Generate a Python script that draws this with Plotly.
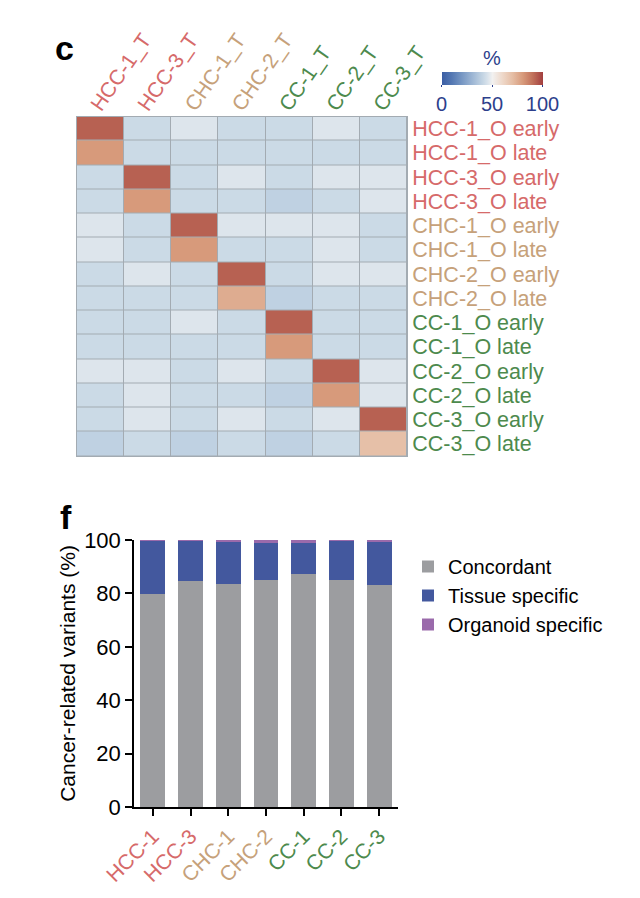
import plotly.graph_objects as go

W, H = 640, 898

# ---------------- data ----------------
tissue_cols = ["HCC-1_T", "HCC-3_T", "CHC-1_T", "CHC-2_T", "CC-1_T", "CC-2_T", "CC-3_T"]
organoid_rows = ["HCC-1_O early", "HCC-1_O late", "HCC-3_O early", "HCC-3_O late",
                 "CHC-1_O early", "CHC-1_O late", "CHC-2_O early", "CHC-2_O late",
                 "CC-1_O early", "CC-1_O late", "CC-2_O early", "CC-2_O late",
                 "CC-3_O early", "CC-3_O late"]
overlap_pct = [
    [93, 42, 46, 42, 42, 46, 42],
    [80, 42, 42, 42, 42, 42, 42],
    [42, 93, 42, 46, 42, 46, 46],
    [42, 80, 42, 42, 39, 42, 46],
    [46, 42, 93, 46, 46, 46, 42],
    [46, 42, 80, 42, 42, 46, 42],
    [42, 46, 42, 93, 42, 46, 46],
    [42, 42, 42, 75, 39, 42, 42],
    [42, 42, 46, 42, 93, 42, 42],
    [42, 42, 42, 42, 80, 42, 42],
    [46, 46, 42, 46, 42, 93, 46],
    [42, 46, 42, 42, 39, 80, 46],
    [42, 46, 42, 46, 42, 46, 93],
    [39, 42, 39, 42, 39, 42, 69],
]

samples = ["HCC-1", "HCC-3", "CHC-1", "CHC-2", "CC-1", "CC-2", "CC-3"]
concordant = [79.8, 84.6, 83.5, 85.0, 87.3, 85.2, 83.1]
tissue_specific = [20.0, 15.3, 16.1, 13.9, 11.4, 14.7, 16.4]
organoid_specific = [0.2, 0.1, 0.4, 1.1, 1.3, 0.1, 0.5]
bar_ticks = [0, 20, 40, 60, 80, 100]
cbar_ticks = [0, 50, 100]

# ---------------- styling ----------------
FONT = "Liberation Sans, Arial, sans-serif"
GROUP_COL = {"HCC": "#d66a6a", "CHC": "#c6a17a", "CC": "#4d8a4d"}


def col_of(label):
    return GROUP_COL[label.split("-")[0]]


def colored(labels):
    return ['<span style="color:%s">%s</span>' % (col_of(s), s) for s in labels]


colorscale = [
    [0.0, "#3b5ea4"], [0.1, "#5579b3"], [0.2, "#7898c4"], [0.3, "#9db6d4"],
    [0.4, "#c3d4e3"], [0.45, "#d8e2eb"], [0.5, "#f2f1f0"], [0.6, "#eed8c9"],
    [0.7, "#e5bda4"], [0.8, "#d79a7b"], [0.9, "#c0705a"], [1.0, "#a23e3f"],
]
CB_COL = "#2d3f8c"


def px(x):
    return x / W


def py(y):
    return 1 - y / H


fig = go.Figure()

fig.add_trace(go.Heatmap(
    z=overlap_pct, x=tissue_cols, y=organoid_rows,
    zmin=0, zmax=100, colorscale=colorscale,
    xgap=1, ygap=1, xaxis="x", yaxis="y", hoverongaps=False,
    colorbar=dict(
        orientation="h", x=px(492), xanchor="center", y=py(71.5), yanchor="top",
        len=101, lenmode="pixels", thickness=13, thicknessmode="pixels",
        xpad=0, ypad=0, outlinewidth=0,
        tickvals=cbar_ticks, ticks="outside", ticklen=2, tickcolor=CB_COL,
        tickfont=dict(family=FONT, size=20, color=CB_COL),
    ),
))

bar_names = ["Concordant", "Tissue specific", "Organoid specific"]
bar_series = [concordant, tissue_specific, organoid_specific]
bar_colors = ["#9c9da0", "#43589e", "#9a6aab"]
for name, vals, c in zip(bar_names, bar_series, bar_colors):
    fig.add_trace(go.Bar(
        x=samples, y=vals, name=name, marker=dict(color=c, line=dict(width=0)),
        width=0.66, xaxis="x2", yaxis="y2",
    ))

fig.update_layout(
    width=W, height=H, margin=dict(l=0, r=0, t=0, b=0, autoexpand=False),
    paper_bgcolor="white", plot_bgcolor="white",
    barmode="stack", font=dict(family=FONT, size=20, color="black"),
    xaxis=dict(domain=[px(77), px(407)], anchor="y", side="top", automargin=False,
               tickmode="array", tickvals=tissue_cols, ticktext=colored(tissue_cols),
               tickangle=-55, ticks="", showgrid=False, zeroline=False,
               ticklabelstandoff=-10, ticklabelshift=-8,
               showline=True, mirror=True, linecolor="#a3abb2", linewidth=1,
               tickfont=dict(family=FONT, size=21)),
    yaxis=dict(domain=[py(456), py(116.5)], anchor="x", side="right", automargin=False,
               tickmode="array", tickvals=organoid_rows, ticktext=colored(organoid_rows),
               autorange="reversed", ticks="", showgrid=False, zeroline=False,
               showline=True, mirror=True, linecolor="#a3abb2", linewidth=1,
               tickfont=dict(family=FONT, size=21.5)),
    xaxis2=dict(domain=[px(134), px(398)], anchor="y2", automargin=False,
                tickmode="array", tickvals=samples, ticktext=colored(samples),
                tickangle=-45, ticks="outside", ticklen=7, tickwidth=1.5, tickcolor="black",
                showline=True, linecolor="black", linewidth=1.5, showgrid=False,
                zeroline=False, range=[-0.5, 6.5],
                tickfont=dict(family=FONT, size=21)),
    yaxis2=dict(domain=[py(807), py(540)], anchor="x2", range=[0, 100], automargin=False,
                tickvals=bar_ticks, ticks="outside", ticklen=7, tickwidth=1.5,
                tickcolor="black", showline=True, linecolor="black", linewidth=1.5,
                showgrid=False, zeroline=False,
                tickfont=dict(family=FONT, size=22),
                title=dict(text="Cancer-related variants (%)", standoff=3,
                           font=dict(family=FONT, size=21))),
    legend=dict(x=px(408), xanchor="left", y=py(547), yanchor="top",
                font=dict(family=FONT, size=20), bgcolor="rgba(0,0,0,0)",
                tracegroupgap=0, traceorder="normal"),
    showlegend=True,
    shapes=[dict(type="rect", xref="x domain", yref="y domain", x0=0, x1=1, y0=0, y1=1,
                 fillcolor="#a3abb2", line=dict(width=0), layer="below")],
    annotations=[
        dict(text="<b>c</b>", x=px(64), y=py(48), xref="paper", yref="paper",
             showarrow=False, font=dict(family=FONT, size=34, color="black"),
             xanchor="center", yanchor="middle"),
        dict(text="<b>f</b>", x=px(66), y=py(517), xref="paper", yref="paper",
             showarrow=False, font=dict(family=FONT, size=34, color="black"),
             xanchor="center", yanchor="middle"),
        dict(text="%", x=px(492), y=py(58), xref="paper", yref="paper",
             showarrow=False, font=dict(family=FONT, size=20, color=CB_COL),
             xanchor="center", yanchor="middle"),
    ],
)

fig.write_html("out.html")
